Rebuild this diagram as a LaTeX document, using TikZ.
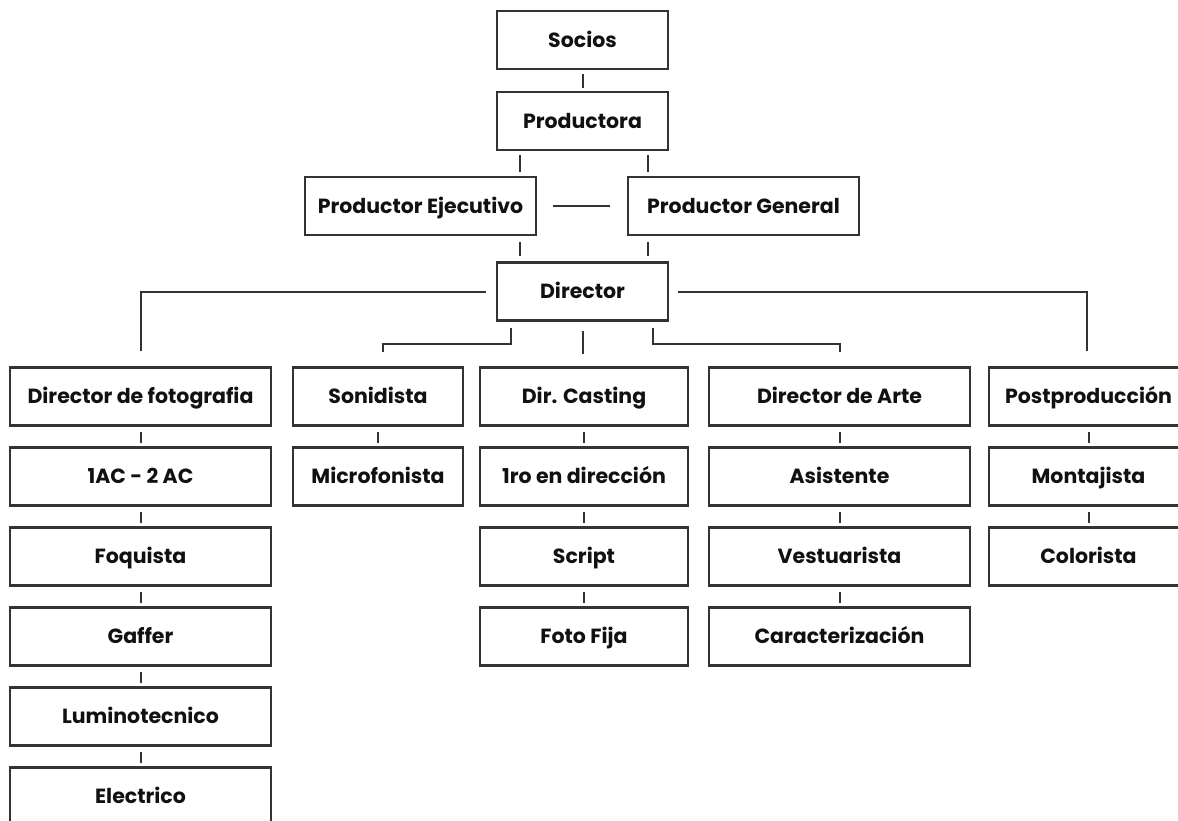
\documentclass[tikz,border=0pt]{standalone}
\usepackage{fontspec}
\setmainfont{Poppins}
\usetikzlibrary{positioning}
\definecolor{edge}{HTML}{333333}
\definecolor{ink}{HTML}{111111}
\tikzset{
  box/.style={draw=edge, line width=2.2pt, rectangle, minimum height=58pt, inner sep=0pt,
    text height=14.5pt, text depth=0pt,
    font=\fontsize{20.5}{24}\selectfont\bfseries, text=ink},
  conn/.style={draw=edge, line width=2pt},
  seg/.style={conn, shorten <=5pt, shorten >=3.5pt},
}
\begin{document}
\begin{tikzpicture}[x=1pt, y=-1pt]
\useasboundingbox (0,0) rectangle (1178,821);
% top
\node[box, minimum width=171pt] (socios) at (582.5,40) {Socios};
\node[box, minimum width=171pt] (productora) at (582.5,121) {Productora};
\node[box, minimum width=231pt] (pe) at (420.5,206) {Productor Ejecutivo};
\node[box, minimum width=231pt] (pg) at (743.5,206) {Productor General};
\node[box, minimum width=171pt] (director) at (582.5,291.5) {Director};
% row 1
\node[box, minimum width=261pt] (dfoto) at (140.5,396.5) {Director de fotografia};
\node[box, minimum width=170pt] (sonidista) at (378,396.5) {Sonidista};
\node[box, minimum width=208pt] (casting) at (584,396.5) {Dir. Casting};
\node[box, minimum width=261pt] (arte) at (839.5,396.5) {Director de Arte};
\node[box, minimum width=199pt] (post) at (1088.5,396.5) {Postproducción};
% row 2
\node[box, minimum width=261pt] (ac) at (140.5,476.5) {1AC - 2 AC};
\node[box, minimum width=170pt] (micro) at (378,476.5) {Microfonista};
\node[box, minimum width=208pt] (primero) at (584,476.5) {1ro en dirección};
\node[box, minimum width=261pt] (asist) at (839.5,476.5) {Asistente};
\node[box, minimum width=199pt] (montaj) at (1088.5,476.5) {Montajista};
% row 3
\node[box, minimum width=261pt] (foq) at (140.5,556.5) {Foquista};
\node[box, minimum width=208pt] (script) at (584,556.5) {Script};
\node[box, minimum width=261pt] (vest) at (839.5,556.5) {Vestuarista};
\node[box, minimum width=199pt] (color) at (1088.5,556.5) {Colorista};
% row 4
\node[box, minimum width=261pt] (gaffer) at (140.5,636.5) {Gaffer};
\node[box, minimum width=208pt] (foto) at (584,636.5) {Foto Fija};
\node[box, minimum width=261pt] (caract) at (839.5,636.5) {Caracterización};
% row 5, 6
\node[box, minimum width=261pt] (lumi) at (140.5,716.5) {Luminotecnico};
\node[box, minimum width=261pt] (elec) at (140.5,796.5) {Electrico};

\coordinate (xl) at (520,0);
\coordinate (xr) at (648,0);

% top connectors
\draw[conn, shorten <=4pt, shorten >=3pt] (socios) -- (productora);
\draw[conn, shorten <=4pt, shorten >=4pt] (productora.south -| xl) -- (pe.north -| xl);
\draw[conn, shorten <=4pt, shorten >=4pt] (productora.south -| xr) -- (pg.north -| xr);
\draw[conn, shorten <=16pt, shorten >=17pt] (pe) -- (pg);
\draw[conn, shorten <=6pt, shorten >=5pt] (pe.south -| xl) -- (director.north -| xl);
\draw[conn, shorten <=6pt, shorten >=5pt] (pg.south -| xr) -- (director.north -| xr);

% director to row 1
\draw[conn] ([xshift=-10pt]director.west) -| ([yshift=15pt]dfoto.north);
\draw[conn] ([xshift=9pt]director.east) -| ([xshift=-1.5pt,yshift=15pt]post.north);
\draw[conn] ([xshift=15pt,yshift=-6pt]director.south west) -- ++(0,16) -| ([xshift=5pt,yshift=14pt]sonidista.north);
\draw[conn, shorten <=9pt, shorten >=12pt] (director.south) -- (director.south |- casting.north);
\draw[conn] ([xshift=-16pt,yshift=-6pt]director.south east) -- ++(0,16) -| ([yshift=14pt]arte.north);

% columns
\draw[seg] (dfoto) -- (ac);
\draw[seg] (ac) -- (foq);
\draw[seg] (foq) -- (gaffer);
\draw[seg] (gaffer) -- (lumi);
\draw[seg] (lumi) -- (elec);
\draw[seg] (sonidista) -- (micro);
\draw[seg] (casting) -- (primero);
\draw[seg] (primero) -- (script);
\draw[seg] (script) -- (foto);
\draw[seg] (arte) -- (asist);
\draw[seg] (asist) -- (vest);
\draw[seg] (vest) -- (caract);
\draw[seg] (post) -- (montaj);
\draw[seg] (montaj) -- (color);
\end{tikzpicture}
\end{document}
